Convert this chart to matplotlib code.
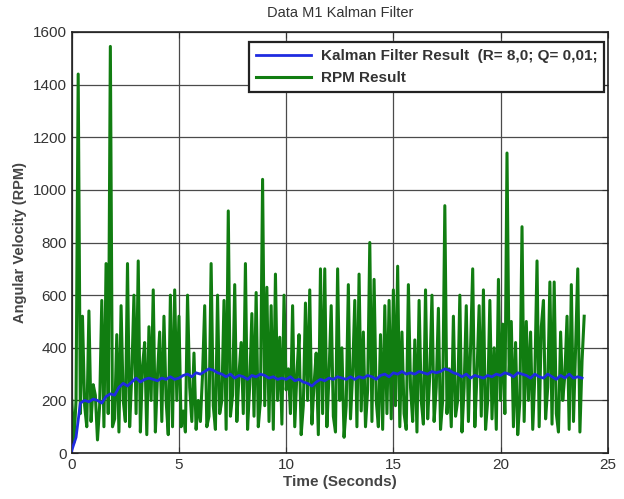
import numpy as np
import matplotlib.pyplot as plt

plt.rcParams['font.family'] = ['Liberation Sans', 'DejaVu Sans']

# RPM samples every 0.1 s (one row per second)
rpm = [200, 40, 200, 1440, 150, 520, 180, 100, 540, 120,
       260, 220, 50, 180, 580, 100, 720, 150, 1545, 100,
       130, 450, 80, 560, 200, 120, 720, 100, 300, 600,
       150, 730, 80, 330, 420, 70, 480, 200, 620, 80,
       300, 460, 120, 520, 200, 70, 600, 100, 620, 200,
       520, 100, 160, 80, 600, 250, 120, 380, 90, 200,
       120, 300, 560, 100, 140, 720, 180, 90, 600, 150,
       200, 580, 90, 920, 140, 220, 640, 120, 300, 420,
       150, 720, 90, 260, 530, 140, 610, 100, 200, 1040,
       180, 630, 120, 560, 90, 680, 200, 440, 110, 600,
       240, 320, 150, 560, 100, 300, 450, 70, 180, 570,
       200, 620, 110, 260, 380, 70, 700, 150, 700, 100,
       300, 560, 140, 80, 700, 200, 400, 60, 180, 640,
       130, 300, 580, 100, 680, 160, 460, 100, 240, 800,
       120, 660, 200, 100, 450, 90, 560, 150, 580, 130,
       620, 180, 710, 100, 460, 150, 90, 640, 250, 120,
       430, 80, 580, 200, 110, 620, 130, 300, 600, 120,
       250, 550, 90, 200, 940, 150, 320, 100, 520, 140,
       200, 600, 80, 250, 560, 120, 400, 700, 100, 300,
       560, 140, 620, 90, 200, 580, 130, 400, 90, 660,
       200, 490, 150, 1140, 300, 500, 100, 420, 70, 200,
       860, 120, 500, 200, 460, 90, 300, 730, 100, 480,
       580, 130, 250, 650, 110, 650, 150, 80, 460, 200,
       300, 520, 90, 640, 120, 400, 700, 80, 350, 520]
t_rpm = np.arange(len(rpm)) * 0.1

# Kalman filter output every 0.2 s
kalman = [10, 60, 190, 200, 195, 205, 200, 190, 215, 225,
          220, 250, 265, 255, 270, 285, 270, 280, 285, 280,
          275, 285, 280, 290, 280, 285, 295, 300, 290, 305,
          300, 310, 320, 315, 305, 300, 290, 300, 285, 295,
          290, 280, 295, 290, 300, 295, 285, 290, 280, 285,
          280, 290, 275, 280, 270, 265, 255, 270, 280, 275,
          285, 280, 290, 285, 280, 290, 280, 290, 285, 295,
          290, 280, 295, 300, 290, 305, 300, 310, 300, 305,
          300, 310, 305, 300, 310, 305, 310, 320, 315, 305,
          300, 290, 300, 285, 295, 290, 285, 295, 290, 300,
          295, 305, 300, 290, 305, 300, 295, 285, 300, 290,
          285, 300, 290, 280, 295, 285, 300, 285, 290, 285]
t_kal = np.arange(len(kalman)) * 0.2

fig = plt.figure(figsize=(6.24, 4.99), dpi=100)
ax = fig.add_axes([0.115, 0.092, 0.859, 0.844])

ax.plot(t_kal, kalman, color='#1f2be0', lw=2, label='Kalman Filter Result  (R= 8,0; Q= 0,01;', zorder=3)
ax.plot(t_rpm, rpm, color='#117d11', lw=2.2, label='RPM Result', zorder=2)

ax.set_xlim(0, 25)
ax.set_ylim(0, 1600)
ax.set_xticks(range(0, 26, 5))
ax.set_yticks(range(0, 1601, 200))
ax.grid(True, color='#4a4a4a', lw=0.9)
ax.tick_params(direction='in', top=True, right=True, labelsize=11, colors='#333333', length=4)
for s in ax.spines.values():
    s.set_color('#222222')
    s.set_linewidth(1.2)

ax.set_title('Data M1 Kalman Filter', fontsize=10.5, color='#333333', pad=11)
ax.set_xlabel('Time (Seconds)', fontsize=11, fontweight='bold', color='#444444', labelpad=2)
ax.set_ylabel('Angular Velocity (RPM)', fontsize=10.5, fontweight='bold', color='#444444')

leg = ax.legend(loc='upper right', bbox_to_anchor=(0.993, 0.975), fancybox=False, framealpha=1,
                edgecolor='#222222', prop={'weight': 'bold', 'size': 11}, borderaxespad=0,
                handlelength=3.6, labelspacing=0.5, borderpad=0.45, handletextpad=0.6)
leg.get_frame().set_linewidth(1.6)
for txt in leg.get_texts():
    txt.set_color('#333333')

fig.savefig('out.png', dpi=100)
